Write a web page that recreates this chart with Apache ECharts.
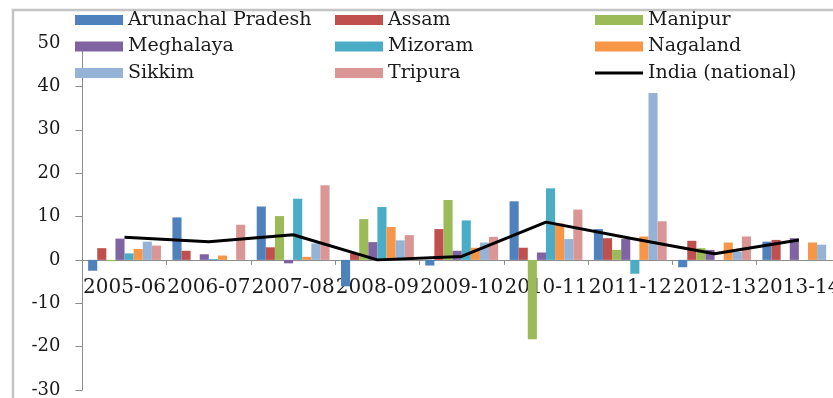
<!DOCTYPE html>
<html>
<head>
<meta charset="utf-8">
<script src="https://cdn.jsdelivr.net/npm/echarts@6/dist/echarts.min.js"></script>
<style>html,body{margin:0;padding:0;background:#fff;}#c{width:833px;height:398px;}</style>
</head>
<body>
<div id="c"></div>
<script>
var categories = ['2005-06','2006-07','2007-08','2008-09','2009-10','2010-11','2011-12','2012-13','2013-14'];
var arunachal = [-2.5, 9.8, 12.3, -6.1, -1.3, 13.5, 7.1, -1.7, 4.2];
var assam     = [2.7, 2.1, 2.9, 1.5, 7.1, 2.8, 5.0, 4.4, 4.6];
var manipur   = [-0.3, 0, 10.1, 9.4, 13.8, -18.3, 2.3, 2.7, 0];
var meghalaya = [4.9, 1.3, -0.8, 4.1, 2.1, 1.7, 4.8, 2.3, 5.0];
var mizoram   = [1.5, 0.2, 14.1, 12.2, 9.1, 16.5, -3.2, 0, 0];
var nagaland  = [2.5, 1.0, 0.7, 7.6, 2.8, 8.4, 5.4, 4.0, 4.0];
var sikkim    = [4.2, 0, 3.8, 4.5, 4.0, 4.8, 38.5, 1.9, 3.5];
var tripura   = [3.3, 8.1, 17.2, 5.7, 5.3, 11.6, 8.9, 5.4, null];
var india     = [5.2, 4.2, 5.8, 0.0, 0.8, 8.7, 5.0, 1.4, 4.6];
var yTicks = {min: -30, max: 50, interval: 10};

var names = ['Arunachal Pradesh','Assam','Manipur','Meghalaya','Mizoram','Nagaland','Sikkim','Tripura'];
var colors = ['#4F81BD','#C0504D','#9BBB59','#8064A2','#4BACC6','#F79646','#95B3D7','#DA9694'];
var values = [arunachal, assam, manipur, meghalaya, mizoram, nagaland, sikkim, tripura];

var FONT = 'DejaVu Serif';
var GRID_TOP = 43, GRID_H = 347;
// pixel distance from grid bottom up to the zero line
var zeroOffset = GRID_H * (0 - yTicks.min) / (yTicks.max - yTicks.min);

var series = names.map(function(n, i){
  return {name: n, type: 'bar', data: values[i], barGap: '0%', barCategoryGap: '13.6%',
    itemStyle: {color: colors[i]}, animation: false};
});
series.push({name: 'India (national)', type: 'line', data: india, symbol: 'none', showSymbol: false,
  lineStyle: {color: '#000', width: 3}, itemStyle: {color: '#000'}, z: 5, animation: false});

function legendCol(left, top, data, h){
  return {orient: 'vertical', left: left, top: top, padding: 0, itemGap: 6.5,
    itemWidth: 48, itemHeight: h || 10, icon: 'rect', data: data,
    textStyle: {fontFamily: FONT, fontSize: 19, lineHeight: 20, color: '#1a1a1a'},
    selectedMode: false};
}

var chart = echarts.init(document.getElementById('c'), null, {renderer: 'canvas'});
chart.setOption({
  animation: false,
  graphic: [{type: 'rect', shape: {x: 13, y: 10, width: 840, height: 420},
    style: {fill: 'none', stroke: '#c4c4c4', lineWidth: 2.5}, silent: true}],
  legend: [
    legendCol(75, 10, ['Arunachal Pradesh','Meghalaya','Sikkim']),
    legendCol(335, 10, ['Assam','Mizoram','Tripura']),
    legendCol(595, 10, ['Manipur','Nagaland']),
    legendCol(595, 63, ['India (national)'], 3)
  ],
  grid: {left: 82.4, top: GRID_TOP, width: 758.6, height: GRID_H, containLabel: false, outerBoundsMode: 'none'},
  xAxis: {type: 'category', data: categories, position: 'bottom', offset: -zeroOffset,
    axisLine: {onZero: false, lineStyle: {color: '#8c8c8c', width: 1}},
    axisTick: {show: true, alignWithLabel: false, length: 5, lineStyle: {color: '#8c8c8c'}},
    axisLabel: {interval: 0, margin: 18, fontFamily: FONT, fontSize: 20, color: '#1a1a1a', hideOverlap: false},
    splitLine: {show: false}},
  yAxis: {type: 'value', min: yTicks.min, max: yTicks.max, interval: yTicks.interval,
    axisLine: {show: true, lineStyle: {color: '#8c8c8c', width: 1}},
    axisTick: {show: true, length: 7, lineStyle: {color: '#8c8c8c'}},
    axisLabel: {margin: 22, fontFamily: FONT, fontSize: 18, color: '#1a1a1a'},
    splitLine: {show: false}},
  series: series
});
</script>
</body>
</html>
